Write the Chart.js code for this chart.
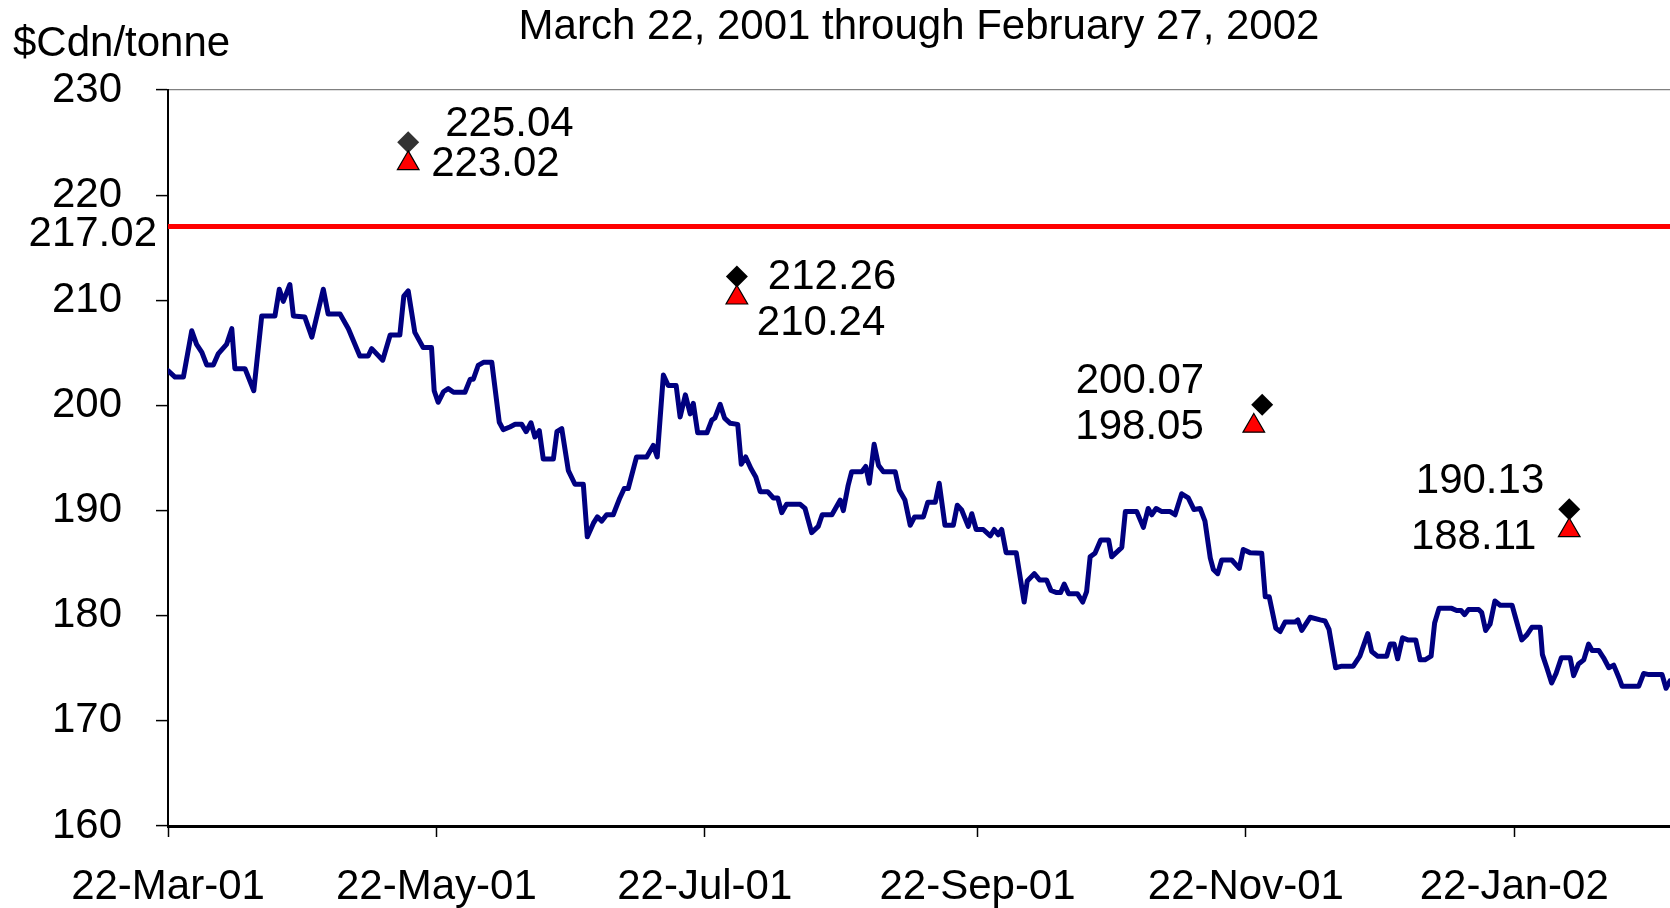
<!DOCTYPE html>
<html><head><meta charset="utf-8">
<script src="https://cdn.jsdelivr.net/npm/chart.js@4.4.1/dist/chart.umd.min.js"></script>
<style>html,body{margin:0;padding:0;background:#fff;}canvas{display:block;}</style>
</head><body>
<canvas id="c" width="1670" height="908"></canvas>
<script>
// ---- texts ----
const titleText = 'March 22, 2001 through February 27, 2002';
const unitText = '$Cdn/tonne';

// ---- x axis: days since 22-Mar-01 ----
const tickDays = [0, 61, 122, 184, 245, 306];
const tickLabels = ['22-Mar-01', '22-May-01', '22-Jul-01', '22-Sep-01', '22-Nov-01', '22-Jan-02'];
const endDay = 341.4; // 27-Feb-02 edge

// ---- y axis ----
const yMin = 160, yMax = 230, yStep = 10;
const benchmark = 217.02;

// ---- price series (day offset, $Cdn/tonne) ----
const days = [
  0, 1.6, 3.5, 5.4, 6.5, 7.7, 8.8, 10.3, 11.4, 13.3,
  14.5, 15.2, 17.5, 19.5, 21.3, 24.3, 25.3, 26.2, 27.7, 28.5,
  31.1, 32.7, 35.3, 36.4, 39.1, 41.0, 43.6, 45.5, 46.3, 48.8,
  50.5, 52.7, 53.6, 54.6, 56.1, 58.0, 59.9, 60.5, 61.4, 62.6,
  63.7, 64.9, 67.5, 68.7, 69.4, 70.5, 71.7, 73.6, 75.3, 76.2,
  77.7, 78.9, 80.4, 81.4, 82.5, 83.4, 84.4, 85.3, 87.6, 88.4,
  89.5, 91.0, 92.5, 94.4, 95.3, 96.7, 97.6, 98.6, 99.7, 101.2,
  102.7, 103.7, 104.6, 106.5, 108.8, 110.3, 111.2, 112.6, 113.7, 115.5,
  116.4, 117.6, 118.7, 119.4, 120.4, 122.5, 123.6, 124.3, 125.5, 126.5,
  127.8, 129.5, 130.3, 131.3, 132.5, 133.6, 134.6, 136.3, 137.6, 138.6,
  139.5, 140.6, 143.7, 144.8, 146.3, 147.8, 148.7, 150.9, 152.8, 153.5,
  154.6, 155.4, 157.7, 158.6, 159.4, 160.5, 161.5, 162.6, 165.3, 166.2,
  167.5, 168.7, 169.7, 171.7, 172.7, 174.4, 175.3, 176.6, 178.5, 179.4,
  180.4, 181.9, 182.7, 183.7, 185.3, 186.9, 187.8, 188.7, 189.5, 190.5,
  192.8, 194.6, 195.3, 196.9, 198.1, 199.7, 200.7, 202.0, 202.9, 203.7,
  204.7, 206.7, 207.9, 208.8, 209.6, 210.7, 212.0, 213.8, 214.5, 216.8,
  217.6, 220.2, 221.7, 222.8, 223.6, 224.6, 225.9, 227.8, 228.9, 230.4,
  231.9, 233.2, 234.6, 235.7, 236.9, 237.6, 238.6, 239.5, 241.8, 243.5,
  244.4, 245.9, 248.6, 249.4, 250.3, 251.8, 252.8, 253.9, 256.2, 256.8,
  257.7, 259.6, 261.9, 263.0, 263.9, 265.4, 266.8, 269.4, 270.9, 272.7,
  273.6, 274.9, 277.0, 277.8, 278.7, 279.5, 280.6, 281.8, 283.6, 284.6,
  285.7, 287.1, 287.9, 288.9, 291.8, 292.9, 293.9, 294.7, 295.6, 297.9,
  298.6, 299.5, 300.5, 301.6, 302.8, 305.5, 306.2, 307.7, 308.9, 310.0,
  311.9, 312.4, 313.4, 314.5, 315.5, 316.7, 318.7, 319.5, 320.6, 321.8,
  322.9, 323.7, 325.2, 326.3, 327.5, 328.6, 329.8, 330.5, 334.3, 335.4,
  336.6, 339.6, 340.5, 341.4
];
const prices = [
  203.3, 202.7, 202.7, 207.1, 205.8, 205.05, 203.85, 203.85, 204.9, 205.8,
  207.3, 203.5, 203.5, 201.4, 208.5, 208.5, 211.05, 209.9, 211.5, 208.5,
  208.4, 206.5, 211.05, 208.7, 208.7, 207.3, 204.7, 204.7, 205.4, 204.3,
  206.7, 206.7, 210.4, 210.9, 206.95, 205.5, 205.5, 201.4, 200.3, 201.3,
  201.6, 201.25, 201.25, 202.5, 202.5, 203.8, 204.1, 204.1, 198.4, 197.7,
  197.95, 198.2, 198.2, 197.5, 198.35, 197.0, 197.6, 194.9, 194.9, 197.5,
  197.8, 193.8, 192.5, 192.5, 187.5, 188.8, 189.4, 189.0, 189.6, 189.6,
  191.2, 192.1, 192.1, 195.1, 195.1, 196.2, 195.1, 202.9, 201.9, 201.9,
  198.9, 201.0, 199.2, 200.2, 197.4, 197.4, 198.6, 198.8, 200.1, 198.8,
  198.3, 198.2, 194.4, 195.1, 194.0, 193.2, 191.8, 191.8, 191.2, 191.2,
  189.8, 190.6, 190.6, 190.2, 187.9, 188.5, 189.6, 189.6, 191.0, 190.0,
  192.4, 193.7, 193.7, 194.2, 192.6, 196.3, 194.3, 193.7, 193.7, 191.95,
  191.0, 188.6, 189.4, 189.4, 190.8, 190.8, 192.6, 188.6, 188.6, 190.5,
  190.05, 188.5, 189.7, 188.2, 188.2, 187.6, 188.2, 187.7, 188.2, 186.0,
  186.0, 181.3, 183.3, 184.0, 183.4, 183.4, 182.4, 182.2, 182.2, 183.0,
  182.1, 182.1, 181.3, 182.3, 185.6, 185.95, 187.2, 187.2, 185.6, 186.5,
  189.9, 189.9, 188.4, 190.2, 189.6, 190.2, 189.9, 189.9, 189.6, 191.6,
  191.2, 190.1, 190.2, 189.0, 185.5, 184.4, 184.0, 185.3, 185.3, 184.5,
  186.3, 186.0, 185.95, 181.8, 181.8, 178.8, 178.5, 179.4, 179.4, 179.6,
  178.6, 179.85, 179.6, 179.5, 178.7, 175.05, 175.2, 175.2, 176.15, 178.3,
  176.6, 176.15, 176.15, 177.3, 177.3, 175.9, 177.9, 177.7, 177.7, 175.8,
  175.8, 176.15, 179.3, 180.7, 180.7, 180.5, 180.5, 180.1, 180.6, 180.6,
  180.3, 178.6, 179.2, 181.4, 181.0, 181.0, 179.95, 177.7, 178.2, 178.9,
  178.9, 176.3, 175.05, 173.6, 174.5, 176.0, 176.0, 174.3, 175.4, 175.8,
  177.3, 176.7, 176.7, 176.0, 175.05, 175.3, 174.1, 173.3, 173.3, 174.5,
  174.4, 174.4, 173.1, 173.8
];

// ---- diamond markers ----
const diamondDays = [54.6, 129.3, 248.7, 318.5];
const diamondValues = [225.04, 212.26, 200.07, 190.13];
// ---- triangle markers ----
const triangleDays = [54.6, 129.3, 246.8, 318.5];
const triangleValues = [223.02, 210.24, 198.05, 188.11];

// ---- label placement (styling, not data) ----
const diamondLabelPos = [
  {dx: 37, dy: -18, align: 'left'}, {dx: 31, dy: 1, align: 'left'},
  {dx: -58, dy: -23, align: 'right'}, {dx: -25, dy: -28, align: 'right'}
];
const triangleLabelPos = [
  {dx: 23, dy: 1, align: 'left'}, {dx: 20, dy: 26, align: 'left'},
  {dx: -50, dy: 1, align: 'right'}, {dx: -33, dy: 7, align: 'right'}
];

const FONT = '"Liberation Sans", Arial, sans-serif';
Chart.defaults.font.family = FONT;
Chart.defaults.color = '#000';

const textPlugin = {
  id: 'texts',
  afterDraw(chart) {
    const ctx = chart.ctx;
    const ca = chart.chartArea;
    ctx.save();
    ctx.font = '42px ' + FONT;
    ctx.fillStyle = '#000';
    ctx.textBaseline = 'middle';
    ctx.textAlign = 'center';
    ctx.fillText(titleText, (ca.left + ca.right) / 2, 27.5);
    ctx.textAlign = 'left';
    ctx.fillText(unitText, 13, 44.5);
    const by = chart.scales.y.getPixelForValue(benchmark);
    ctx.textAlign = 'right';
    ctx.fillText(benchmark.toFixed(2), ca.left - 11, by + 8);
    const drawLabels = (dsIndex, values, pos) => {
      const meta = chart.getDatasetMeta(dsIndex);
      meta.data.forEach((pt, i) => {
        ctx.textAlign = pos[i].align;
        ctx.fillText(values[i].toFixed(2), pt.x + pos[i].dx, pt.y + pos[i].dy);
      });
    };
    drawLabels(0, triangleValues, triangleLabelPos);
    drawLabels(1, diamondValues, diamondLabelPos);
    ctx.restore();
  }
};

new Chart(document.getElementById('c'), {
  type: 'scatter',
  data: {
    datasets: [
      {
        label: 'triangle',
        data: triangleDays.map((d, i) => ({x: d, y: triangleValues[i]})),
        pointStyle: 'triangle', pointRadius: 12.5, pointHoverRadius: 12.5,
        pointBackgroundColor: '#FF0000', pointBorderColor: '#000', pointBorderWidth: 1.2,
        showLine: false
      },
      {
        label: 'diamond',
        data: diamondDays.map((d, i) => ({x: d, y: diamondValues[i]})),
        pointStyle: 'rectRot', pointRadius: 11, pointHoverRadius: 11,
        pointBackgroundColor: ['#333333', '#000', '#000', '#000'], pointBorderWidth: 0,
        showLine: false
      },
      {
        label: 'benchmark',
        data: [{x: 0, y: benchmark}, {x: endDay, y: benchmark}],
        showLine: true, borderColor: '#FF0000', borderWidth: 5, pointRadius: 0, tension: 0
      },
      {
        label: 'price',
        data: days.map((d, i) => ({x: d, y: prices[i]})),
        showLine: true, borderColor: '#000080', borderWidth: 5, pointRadius: 0,
        tension: 0, borderJoinStyle: 'round', borderCapStyle: 'round'
      }
    ]
  },
  options: {
    responsive: false,
    animation: false,
    devicePixelRatio: 1,
    layout: {autoPadding: false, padding: {top: 90, right: 0, bottom: 0, left: 0}},
    plugins: {legend: {display: false}, tooltip: {enabled: false}, title: {display: false}},
    scales: {
      x: {
        type: 'linear', min: 0, max: endDay,
        afterBuildTicks: (s) => { s.ticks = tickDays.map(v => ({value: v})); },
        afterFit: (s) => { s.height = 908 - 826; s.paddingRight = 0; s.paddingLeft = 0; },
        ticks: {
          autoSkip: false, maxRotation: 0, padding: 25,
          font: {size: 42, family: FONT}, color: '#000',
          callback: (v) => { const i = tickDays.indexOf(v); return i >= 0 ? tickLabels[i] : ''; }
        },
        grid: {drawOnChartArea: false, drawTicks: true, tickLength: 11, tickColor: '#000', tickWidth: 1.5, color: '#000'},
        border: {display: true, color: '#000', width: 3}
      },
      y: {
        type: 'linear', min: yMin, max: yMax,
        afterFit: (s) => { s.width = 168; },
        ticks: {stepSize: yStep, padding: 34, font: {size: 42, family: FONT}, color: '#000'},
        grid: {
          drawOnChartArea: true, drawTicks: true, tickLength: 12,
          color: (c) => (c.tick && c.tick.value === yMax) ? '#808080' : 'rgba(0,0,0,0)',
          lineWidth: 1.2, tickColor: '#000', tickWidth: 1.5
        },
        border: {display: true, color: '#000', width: 2}
      }
    }
  },
  plugins: [textPlugin]
});
</script>
</body></html>
